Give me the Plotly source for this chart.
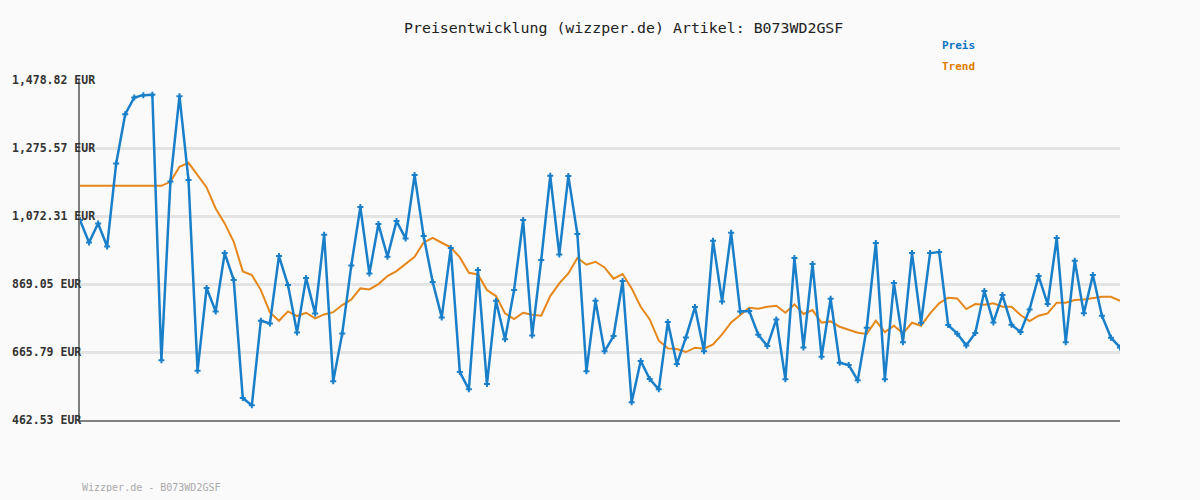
import plotly.graph_objects as go

title_text = "Preisentwicklung (wizzper.de) Artikel: B073WD2GSF"
footer_text = "Wizzper.de - B073WD2GSF"
tick_values = [462.53, 665.79, 869.05, 1072.31, 1275.57, 1478.82]
tick_labels = ["462.53 EUR", "665.79 EUR", "869.05 EUR", "1,072.31 EUR", "1,275.57 EUR", "1,478.82 EUR"]

preis = [
    1060.3, 993.6, 1050.4, 981.6, 1229.7, 1377.2, 1427.0, 1434.0, 1435.0, 640.9,
    1175.9, 1431.0, 1179.9, 609.9, 857.1, 787.3, 961.7, 881.0, 528.3, 506.3,
    759.4, 751.4, 952.7, 866.0, 724.5, 886.9, 781.3, 1016.5, 578.1, 721.5,
    924.8, 1099.2, 900.9, 1048.4, 950.8, 1057.4, 1005.5, 1194.9, 1012.5, 875.0,
    769.4, 976.6, 606.0, 554.2, 910.9, 570.1, 819.2, 703.7, 851.1, 1060.3,
    715.6, 940.8, 1192.9, 957.7, 1191.9, 1018.5, 608.0, 819.2, 667.8, 713.6,
    878.0, 515.3, 638.9, 585.1, 554.2, 755.4, 629.9, 709.6, 800.3, 667.8,
    998.6, 817.2, 1022.5, 787.3, 788.3, 717.6, 683.7, 763.4, 584.1, 946.8,
    679.7, 928.8, 651.8, 825.2, 633.9, 626.9, 581.1, 738.5, 991.6, 584.1,
    872.0, 694.7, 961.7, 753.4, 961.7, 964.7, 746.5, 720.6, 685.7, 722.6,
    848.1, 754.4, 836.2, 747.5, 725.6, 793.3, 893.0, 809.3, 1006.5, 694.7,
    938.8, 781.4, 895.9, 774.4, 708.6, 679.7,
]

trend = [
    1162.9, 1162.9, 1162.9, 1162.9, 1162.9, 1162.9, 1162.9, 1162.9, 1162.9, 1162.9,
    1174.9, 1219.8, 1231.7, 1194.8, 1158.0, 1095.0, 1050.4, 995.6, 906.9, 896.0,
    851.0, 784.3, 759.4, 787.3, 773.4, 783.3, 766.4, 778.3, 785.0, 806.3,
    823.2, 856.1, 853.1, 869.0, 893.0, 907.9, 928.8, 950.7, 993.6, 1007.5,
    992.6, 978.6, 948.8, 902.9, 897.9, 851.1, 833.2, 781.4, 764.4, 783.4,
    777.4, 774.4, 833.2, 871.0, 900.9, 946.8, 926.8, 935.8, 918.9, 885.0,
    899.0, 856.1, 801.3, 763.4, 699.7, 676.7, 674.8, 665.8, 678.7, 675.7,
    688.7, 718.6, 754.4, 775.4, 798.3, 795.3, 801.3, 804.3, 783.4, 808.3,
    779.4, 791.3, 753.4, 757.4, 741.5, 732.5, 723.6, 720.0, 759.4, 725.6,
    744.5, 721.6, 753.4, 744.5, 781.4, 811.3, 828.2, 826.2, 794.3, 809.3,
    807.3, 811.3, 801.3, 801.3, 776.4, 758.4, 774.4, 781.4, 813.3, 813.3,
    821.2, 823.2, 828.2, 831.2, 831.2, 819.2,
]

assert len(preis) == len(trend), (len(preis), len(trend))
x_idx = list(range(len(preis)))

BLUE = "#1a7fc9"
ORANGE = "#e5871a"
BG = "#fafafa"
MONO = "DejaVu Sans Mono, Liberation Mono, monospace"

fig = go.Figure()
fig.add_trace(go.Scatter(
    x=x_idx, y=trend, mode="lines", name="Trend",
    line=dict(color=ORANGE, width=2), hoverinfo="y",
))
fig.add_trace(go.Scatter(
    x=x_idx, y=preis, mode="lines+markers", name="Preis",
    line=dict(color=BLUE, width=2.5),
    marker=dict(symbol="cross", size=5, color=BLUE, line=dict(width=0)),
    hoverinfo="y",
))

annotations = []
for v, t in zip(tick_values, tick_labels):
    annotations.append(dict(
        text=f"<b>{t}</b>", xref="paper", yref="y", x=-70 / 1040, y=v,
        xanchor="left", yanchor="middle", showarrow=False,
        font=dict(family=MONO, size=11.5, color="#333333"),
    ))
annotations.append(dict(
    text=title_text, xref="paper", yref="paper", x=(623 - 80) / 1040, y=1 + (80 - 28) / 340,
    xanchor="center", yanchor="middle", showarrow=False,
    font=dict(family=MONO, size=14.9, color="#222222"),
))
annotations.append(dict(
    text="<b>Preis</b>", xref="paper", yref="paper", x=(940 - 80) / 1040, y=1 + (80 - 46) / 340,
    xanchor="left", yanchor="middle", showarrow=False,
    font=dict(family=MONO, size=11, color="#0a74c4"),
))
annotations.append(dict(
    text="<b>Trend</b>", xref="paper", yref="paper", x=(940 - 80) / 1040, y=1 + (80 - 67) / 340,
    xanchor="left", yanchor="middle", showarrow=False,
    font=dict(family=MONO, size=11, color="#e07b00"),
))
annotations.append(dict(
    text=footer_text, xref="paper", yref="paper", x=0, y=-(487 - 420) / 340,
    xanchor="left", yanchor="middle", showarrow=False,
    font=dict(family=MONO, size=10, color="#aaaaaa"),
))

# page body has an 8px default margin, so the figure is 16px smaller and the
# plot margins are 8px smaller to put the plot area at 80..1120 x 80..420
fig.update_layout(
    width=1184, height=484,
    margin=dict(l=72, r=72, t=72, b=72),
    paper_bgcolor=BG, plot_bgcolor=BG,
    showlegend=False,
    annotations=annotations,
    xaxis=dict(
        range=[0, len(preis) - 1], showgrid=False, zeroline=False,
        showticklabels=False, ticks="",
        showline=True, linecolor="#808080", linewidth=2,
    ),
    yaxis=dict(
        range=[tick_values[0], tick_values[-1] + 0.5], tickvals=tick_values,
        showticklabels=False, ticks="",
        showgrid=True, gridcolor="#e4e4e4", gridwidth=3, zeroline=False,
        showline=True, linecolor="#808080", linewidth=2,
    ),
)

fig.write_html("out.html", post_script="document.body.style.background='#fafafa';")
